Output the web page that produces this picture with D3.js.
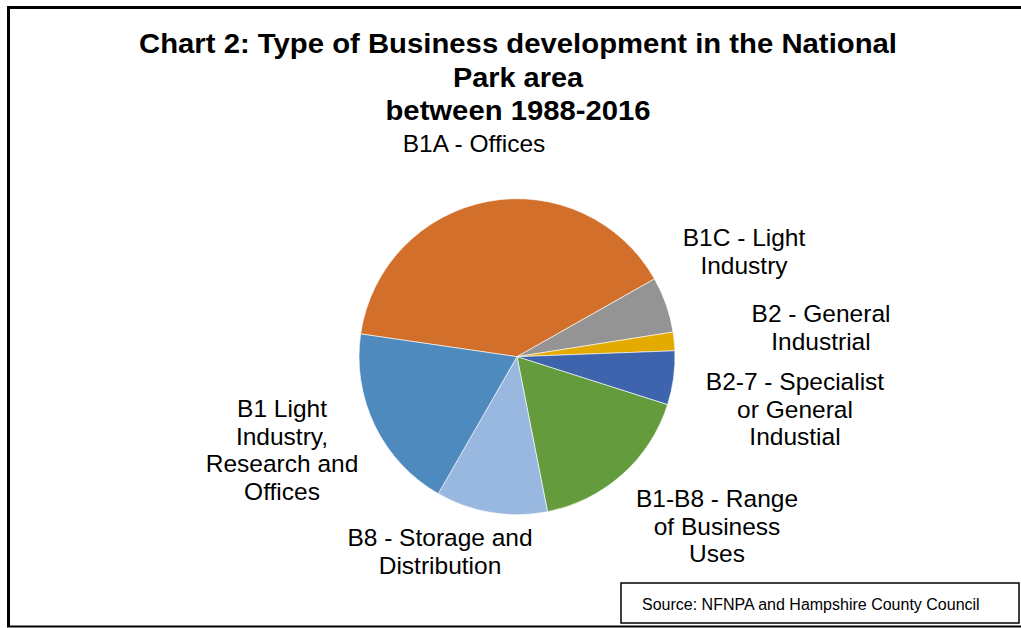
<!DOCTYPE html>
<html>
<head>
<meta charset="utf-8">
<script src="https://cdn.jsdelivr.net/npm/d3@7/dist/d3.min.js"></script>
<style>
  body { margin: 0; background: #fff; }
  svg text { font-family: "Liberation Sans", Arial, sans-serif; fill: #000; }
</style>
</head>
<body>
<div id="chart"></div>
<script>
// chart values (share of developments, %)
var categories = [
  "B1A - Offices",
  "B1C - Light Industry",
  "B2 - General Industrial",
  "B2-7 - Specialist or General Industial",
  "B1-B8 - Range of Business Uses",
  "B8 - Storage and Distribution",
  "B1 Light Industry, Research and Offices"
];
var values = [39.5, 5.7, 1.9, 5.5, 17.0, 11.4, 19.0];
var labelLines = [
  ["B1A - Offices"],
  ["B1C - Light", "Industry"],
  ["B2 - General", "Industrial"],
  ["B2-7 - Specialist", "or General", "Industial"],
  ["B1-B8 - Range", "of Business", "Uses"],
  ["B8 - Storage and", "Distribution"],
  ["B1 Light", "Industry,", "Research and", "Offices"]
];
var titleLines = ["Chart 2: Type of Business development in the National", "Park area", "between 1988-2016"];
var sourceText = "Source: NFNPA and Hampshire County Council";

// layout
var colors = ["#d26f2b", "#949494", "#e3aa00", "#3d64ad", "#639b3d", "#99b8df", "#4f8abe"];
var labelPos = [[474, 152], [744, 246], [821, 322], [795, 390], [717, 507], [440, 546], [282, 417]];
var lineH = 27.5;

var W = 1021, H = 628;
var svg = d3.select("#chart").append("svg")
  .attr("width", W)
  .attr("height", H);

// frame
svg.append("path")
  .attr("d", "M8.5,627 L8.5,7.5 L1021,7.5")
  .attr("fill", "none")
  .attr("stroke", "#000")
  .attr("stroke-width", 3);
svg.append("line")
  .attr("x1", 7).attr("x2", W)
  .attr("y1", 626.5).attr("y2", 626.5)
  .attr("stroke", "#000")
  .attr("stroke-width", 2);

// title
var titleWidths = [758, 130, 265];
titleLines.forEach(function (t, i) {
  svg.append("text")
    .attr("x", 518)
    .attr("y", 53 + i * 33.5)
    .attr("text-anchor", "middle")
    .attr("font-size", "27px")
    .attr("font-weight", "bold")
    .attr("textLength", titleWidths[i])
    .attr("lengthAdjust", "spacingAndGlyphs")
    .text(t);
});

// pie
var cx = 517, cy = 356.7, r = 158;
var start = 278.3 * Math.PI / 180;
var pie = d3.pie().sort(null).value(function (d) { return d; })
  .startAngle(start).endAngle(start + 2 * Math.PI);
var arc = d3.arc().innerRadius(0).outerRadius(r);

var g = svg.append("g").attr("transform", "translate(" + cx + "," + cy + ")");
g.selectAll("path.slice")
  .data(pie(values))
  .enter().append("path")
  .attr("class", "slice")
  .attr("d", arc)
  .attr("fill", function (d, i) { return colors[i]; })
  .attr("stroke", "#fff")
  .attr("stroke-width", 0.6);

// labels
labelLines.forEach(function (lines, i) {
  var t = svg.append("text")
    .attr("text-anchor", "middle")
    .attr("font-size", "24.5px")
    .attr("x", labelPos[i][0])
    .attr("y", labelPos[i][1]);
  lines.forEach(function (l, j) {
    t.append("tspan")
      .attr("x", labelPos[i][0])
      .attr("y", labelPos[i][1] + j * lineH)
      .text(l);
  });
});

// source box
svg.append("rect")
  .attr("x", 621).attr("y", 583)
  .attr("width", 398).attr("height", 40)
  .attr("fill", "#fff")
  .attr("stroke", "#000")
  .attr("stroke-width", 1.5);
svg.append("text")
  .attr("x", 642)
  .attr("y", 610)
  .attr("font-size", "16px")
  .text(sourceText);
</script>
</body>
</html>
